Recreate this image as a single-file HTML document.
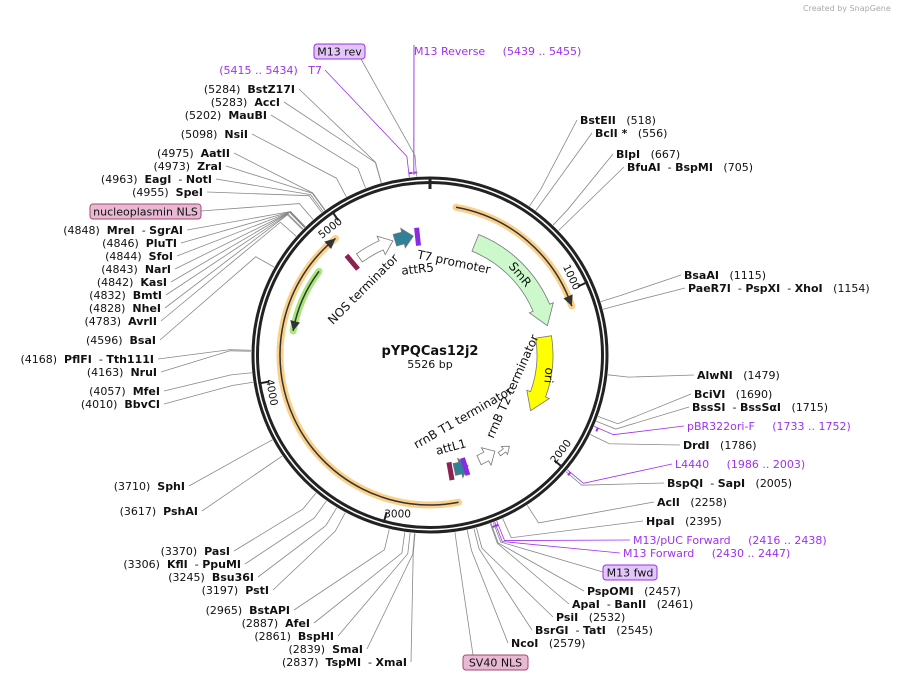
<!DOCTYPE html>
<html><head><meta charset="utf-8"><style>
html,body{margin:0;padding:0;background:#fff;width:900px;height:679px;overflow:hidden}
svg{display:block}
text{font-family:"DejaVu Sans","Liberation Sans",sans-serif;font-size:11px;fill:#111;white-space:pre}
</style></head><body>
<svg id="map" width="900" height="679" viewBox="0 0 900 679" xmlns="http://www.w3.org/2000/svg" xml:space="preserve">
<text x="803" y="11" style="font-size:8px;fill:#aaa">Created by SnapGene</text>
<g id="lines"></g>
<g id="features"></g>
<g id="backbone">
<circle cx="430" cy="355" r="177" fill="none" stroke="#222" stroke-width="3"/>
<circle cx="430" cy="355" r="172.5" fill="none" stroke="#222" stroke-width="3"/>
</g>
<g id="labels"></g>
<text x="430" y="355" text-anchor="middle" style="font-size:13px;font-weight:bold">pYPQCas12j2</text>
<text x="430" y="368" text-anchor="middle">5526 bp</text>
</svg>
<script>
const TOTAL = 5526;
const cutNames = ["BstEII","BclI *","BlpI","BfuAI - BspMI","BsaAI","PaeR7I - PspXI - XhoI","AlwNI","BciVI","BssSI - BssSαI","DrdI","BspQI - SapI","AclI","HpaI","PspOMI","ApaI - BanII","PsiI","BsrGI - TatI","NcoI",
"BstZ17I","AccI","MauBI","NsiI","AatII","ZraI","EagI - NotI","SpeI","MreI - SgrAI","PluTI","SfoI","NarI","KasI","BmtI","NheI","AvrII","BsaI","PflFI - Tth111I","NruI","MfeI","BbvCI","SphI","PshAI","PasI","KflI - PpuMI","Bsu36I","PstI","BstAPI","AfeI","BspHI","SmaI","TspMI - XmaI"];
const cutPos = [518,556,667,705,1115,1154,1479,1690,1715,1786,2005,2258,2395,2457,2461,2532,2545,2579,
5284,5283,5202,5098,4975,4973,4963,4955,4848,4846,4844,4843,4842,4832,4828,4783,4596,4168,4163,4057,4010,3710,3617,3370,3306,3245,3197,2965,2887,2861,2839,2837];
const labX = [580,595,616,627,684,688,697,694,692,683,667,657,646,587,572,556,535,511,
295,280,267,248,230,222,212,203,183,177,173,171,167,162,161,157,156,154,157,160,160,185,198,230,241,254,269,290,310,334,363,407];
const labY = [124,137,158,171,279,292,379,398,411,449,487,506,525,595,608,621,634,647,
93,106,119,138,157,170,183,196,234,247,260,273,286,299,312,325,344,363,376,395,408,490,515,555,568,581,594,614,627,640,653,666];
const primerNames = ["M13 Reverse","T7","pBR322ori-F","L4440","M13/pUC Forward","M13 Forward"];
const primerRange = ["(5439 .. 5455)","(5415 .. 5434)","(1733 .. 1752)","(1986 .. 2003)","(2416 .. 2438)","(2430 .. 2447)"];
const primerPos = [5447,5424,1742,1994,2427,2438];
const primX = [414,322,687,675,633,623];
const primY = [55,74,430,468,544,557];
const boxNames = ["M13 rev","nucleoplasmin NLS","M13 fwd","SV40 NLS"];
const boxPos = [5460,4900,2445,2640];
const boxX = [314,90,603,463];
const boxY = [44,204,565,655];
const boxW = [51,111,54,65];
const boxFill = ["#e2c6fa","#e8b9d2","#e2c6fa","#e8b9d2"];
const boxStroke = ["#9b30e0","#a04a74","#9b30e0","#a04a74"];
const tickVals = [1000,2000,3000,4000,5000];
const tickRot = [65,-52,0,80,-38];

const NS="http://www.w3.org/2000/svg", CX=430, CY=355;
function ang(p){return p/TOTAL*2*Math.PI;}
function pt(p,r){const a=ang(p);return [CX+r*Math.sin(a), CY-r*Math.cos(a)];}
function mk(tag,attrs,parent){const e=document.createElementNS(NS,tag);for(const k in attrs)e.setAttribute(k,attrs[k]);parent.appendChild(e);return e;}
const L=document.getElementById('lines'), T=document.getElementById('labels'), F=document.getElementById('features');

function leader(p,x,y,col){
  const a=pt(p,200), b=pt(p,179);
  const pl=mk('polyline',{points:`${x},${y} ${a[0]},${a[1]} ${b[0]},${b[1]}`,fill:'none',stroke:col,'stroke-width':0.8},L);
  
  
}
function addName(t,name){
  const parts=name.split(' - ');
  parts.forEach((s,i)=>{
    if(i>0){const d=mk('tspan',{},t);d.textContent='  - ';}
    const b=mk('tspan',{'font-weight':'bold'},t);b.textContent=s;
  });
}
cutNames.forEach((n,i)=>{
  const right=i<18;
  const x=labX[i], y=labY[i];
  const t=mk('text',{x:x,y:y,'text-anchor':right?'start':'end'},T);
  
  
  if(right){addName(t,n);const s=mk('tspan',{},t);s.textContent='   ('+cutPos[i]+')';
    leader(cutPos[i],x-3,y-4,'#888');}
  else{const s=mk('tspan',{},t);s.textContent='('+cutPos[i]+')  ';addName(t,n);
    leader(cutPos[i],x+4,y-4,'#888');}
});
primerNames.forEach((n,i)=>{
  const right=primX[i]>400;
  const t=mk('text',{x:primX[i],y:primY[i],'text-anchor':right?'start':'end'},T);
  t.style.fill='#a030f0';
  
  
  t.textContent=right? n+'     '+primerRange[i] : primerRange[i]+'   '+n;
  const b=pt(primerPos[i],181);
  if(i===0){mk('line',{x1:primX[i],y1:primY[i]-10,x2:b[0],y2:b[1],stroke:'#b060f0','stroke-width':1.2},L);}
  else leader(primerPos[i],right?primX[i]-3:primX[i]+3,primY[i]-4,'#a030f0');
  const m=pt(primerPos[i],183), m2=pt(primerPos[i]+18,183);
  const pm=mk('line',{x1:m[0],y1:m[1],x2:m2[0],y2:m2[1],stroke:'#a030f0','stroke-width':2},L);
  
  
});
boxNames.forEach((n,i)=>{
  const g=mk('g',{},T);
  
  
  mk('rect',{x:boxX[i],y:boxY[i],width:boxW[i],height:15,rx:3,fill:boxFill[i],stroke:boxStroke[i],'stroke-width':1},g);
  const t=mk('text',{x:boxX[i]+boxW[i]/2,y:boxY[i]+11.5,'text-anchor':'middle'},g);
  t.textContent=n;
  let ax,ay;
  if(i===0){ax=boxX[i]+boxW[i]-4;ay=boxY[i]+15;} else if(i===1){ax=boxX[i]+boxW[i];ay=boxY[i]+7;}
  else if(i===2){ax=boxX[i];ay=boxY[i]+7;} else {ax=boxX[i]+10;ay=boxY[i];}
  leader(boxPos[i],ax,ay,'#888');
});
tickVals.forEach((v,i)=>{
  const a=pt(v,174), b=pt(v,163), c=pt(v-60,162);
  const l=mk('line',{x1:a[0],y1:a[1],x2:b[0],y2:b[1],stroke:'#222','stroke-width':2},T);
  
  
  const t=mk('text',{x:c[0],y:c[1]+4,'text-anchor':'middle',transform:`rotate(${tickRot[i]} ${c[0]} ${c[1]})`,style:'font-size:10.5px'},T);
  
  
  t.textContent=v;
});
const z=pt(0,178),z2=pt(0,166);
mk('line',{x1:z[0],y1:z[1],x2:z2[0],y2:z2[1],stroke:'#222','stroke-width':3},T);

function arcPath(a1,a2,r){const r1=a1*Math.PI/180,r2=a2*Math.PI/180;
  const x1=CX+r*Math.sin(r1),y1=CY-r*Math.cos(r1),x2=CX+r*Math.sin(r2),y2=CY-r*Math.cos(r2);
  const large=Math.abs(a2-a1)>180?1:0, sw=a2>a1?1:0;
  return `M${x1},${y1} A${r},${r} 0 ${large} ${sw} ${x2},${y2}`;}
function P(a,r){const q=a*Math.PI/180;return [CX+r*Math.sin(q),CY-r*Math.cos(q)];}
function thinArc(a1,a2,r,halo,name){
  const g=mk('g',{},F);
  
  
  mk('path',{d:arcPath(a1,a2,r),fill:'none',stroke:halo,'stroke-width':7,'stroke-linecap':'round'},g);
  mk('path',{d:arcPath(a1,a2,r),fill:'none',stroke:'#333','stroke-width':1.5},g);
  const d=a2>a1?1:-1, tip=P(a2,r), b1=P(a2-d*4,r-5), b2=P(a2-d*4,r+5);
  mk('polygon',{points:`${tip} ${b1} ${b2}`,fill:'#333'},g);
}
thinArc(10,71,150,'#fbd08a','cds-arc-right');
thinArc(169,321,150,'#fbd08a','cds-arc-left');
thinArc(307,280,139,'#a6e67a','green-arc');
function wideArrow(a1,a2,r,w,fill,name,head,hx){
  const h=head, d=a2>a1?1:-1, ab=a2-d*h;
  const o1=P(a1,r+w/2),o2=P(ab,r+w/2),i1=P(a1,r-w/2),i2=P(ab,r-w/2),t=P(a2,r),ho=P(ab,r+w/2+hx),hi=P(ab,r-w/2-hx);
  const sw=d>0?1:0, sw2=d>0?0:1;
  const p=mk('path',{d:`M${o1} A${r+w/2},${r+w/2} 0 0 ${sw} ${o2} L${ho} L${t} L${hi} L${i2} A${r-w/2},${r-w/2} 0 0 ${sw2} ${i1} Z`,fill:fill,stroke:'#777','stroke-width':0.8},F);
  
  
}
wideArrow(22,76,121,18,'#ccf8cc','smr-feature',9,4);
wideArrow(81,119,115,16,'#ffff00','ori-feature',9,4);
wideArrow(324,342,120,10,'#fff','nos-terminator-arrow',6,5);
wideArrow(343,352,120,12,'#2e8199','attr5-feature',5,4);
wideArrow(155,146,116,10,'#fff','rrnb-t1-arrow',5,5);
wideArrow(145,139,121,4,'#fff','rrnb-t2-arrow',3,3);
wideArrow(168,161,117,12,'#2e8199','attl1-feature',4,4);
function barR(a,r,col,name){const p1=P(a,r-9),p2=P(a,r+9);const b=mk('line',{x1:p1[0],y1:p1[1],x2:p2[0],y2:p2[1],stroke:col,'stroke-width':5},F);
  }
barR(354,119,'#8a2be2','t7-promoter-mark');barR(320,121,'#8b2252','nos-mark');barR(162.5,117,'#8a2be2','attl1-mark');barR(170,118,'#8b2252','term-mark');

const ftxt=[["NOS terminator",366,292,-45],["attR5",418,273,-6],["T7 promoter",453,266,12],["SmR",517,277,50],["ori",545,375,95],["rrnB T2 terminator",516,388,-66],["rrnB T1 terminator",465,421,-30],["attL1",452,451,-15]];
ftxt.forEach(f=>{const t=mk('text',{x:f[1],y:f[2],'text-anchor':'middle',transform:`rotate(${f[3]} ${f[1]} ${f[2]})`,style:'font-size:12px'},F);
  t.textContent=f[0];});
</script>
</body></html>
